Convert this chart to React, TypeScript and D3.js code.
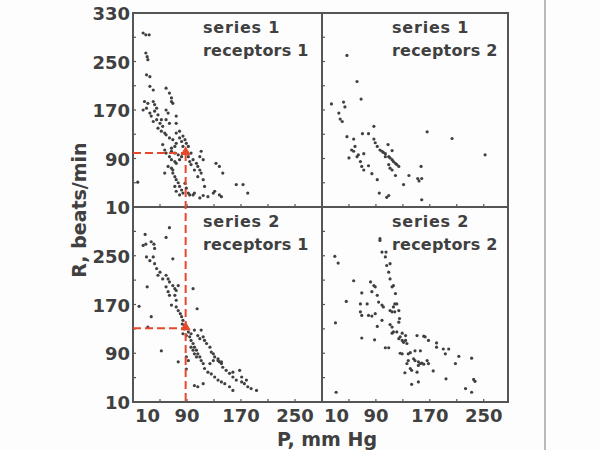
import React from 'react'
import * as d3 from 'd3'

// P (mm Hg), R (beats/min)
const s1r1: [number, number][] = [
  [25, 297], [29, 294], [34, 294], [29, 264], [31, 258], [32, 253], [30, 228], [35, 225],
  [35, 209], [40, 203], [59, 206], [64, 198], [67, 190], [67, 184], [69, 181],
  [27, 184], [32, 181], [30, 173], [25, 170], [40, 184], [42, 179], [45, 173], [42, 168], [47, 162],
  [35, 165], [37, 160], [40, 151], [45, 154], [50, 148], [54, 143], [47, 140], [52, 135], [57, 132],
  [59, 129], [64, 124], [69, 121], [74, 115], [72, 110], [67, 107],
  [74, 160], [74, 148], [79, 135], [84, 127], [87, 121], [89, 115], [92, 110], [96, 99], [99, 88],
  [104, 82], [106, 77], [109, 71], [111, 66], [114, 55], [116, 44], [62, 165], [59, 170],
  [54, 113], [57, 104], [59, 99], [64, 93], [67, 88], [72, 85], [74, 82], [79, 88], [82, 93],
  [84, 110], [87, 102], [92, 93], [94, 85], [96, 80], [101, 71], [106, 60],
  [69, 66], [72, 60], [74, 55], [77, 50], [79, 44], [82, 38], [84, 33], [72, 44], [74, 36], [79, 30],
  [87, 49], [89, 41], [92, 33], [94, 30], [99, 30], [101, 33], [109, 25], [114, 29], [121, 27],
  [129, 33], [138, 30], [67, 74], [69, 71], [62, 77], [57, 66], [111, 102], [114, 88], [109, 93],
  [133, 82], [138, 77], [143, 66], [163, 47], [173, 47], [180, 33], [131, 36], [141, 27],
  [67, 102], [72, 99], [77, 96], [59, 154], [64, 148], [52, 154], [79, 124], [82, 118], [74, 132],
  [17, 51],
]

const s1r2: [number, number][] = [
  [47, 260], [62, 217], [68, 188], [24, 180], [42, 183], [44, 175], [35, 165], [37, 155], [40, 151],
  [47, 126], [50, 91], [57, 122], [59, 110], [54, 104], [57, 102], [62, 93], [67, 85], [69, 77],
  [72, 71], [64, 96], [70, 131], [79, 131], [87, 143], [87, 122], [89, 116], [92, 110], [96, 104],
  [101, 100], [104, 98], [109, 93], [111, 91], [114, 88], [116, 85], [119, 82], [121, 80], [124, 77],
  [109, 80], [111, 74], [114, 71], [99, 102], [104, 93], [108, 113], [114, 103], [72, 98], [79, 78],
  [84, 65], [92, 55], [131, 47], [119, 62], [139, 62], [95, 33], [109, 29], [106, 26],
  [157, 77], [158, 57], [152, 57], [154, 53], [158, 22], [166, 134], [203, 123], [252, 96],
]

const s2r1: [number, number][] = [
  [28, 285], [25, 267], [29, 269], [37, 273], [41, 269], [42, 262], [30, 248], [35, 242], [40, 248],
  [42, 237], [64, 296], [59, 280], [69, 245], [45, 229], [47, 218], [50, 223], [54, 212], [59, 218],
  [62, 212], [64, 207], [59, 199], [62, 191], [64, 185], [31, 199], [69, 201], [72, 196], [74, 193],
  [77, 201], [72, 185], [74, 177], [67, 169], [74, 166], [77, 160], [19, 167], [37, 150], [32, 133],
  [52, 94], [80, 155], [82, 150], [84, 144], [83, 138], [86, 135], [86, 130], [99, 196], [105, 163],
  [84, 122], [89, 119], [94, 117], [96, 111], [99, 106], [101, 100], [104, 95], [106, 89], [109, 84],
  [111, 78], [114, 73], [92, 125], [96, 122], [101, 128], [106, 119], [109, 114], [111, 128],
  [114, 117], [116, 111], [119, 106], [124, 100], [126, 92], [129, 89], [131, 84], [136, 78],
  [138, 76], [141, 73], [143, 67], [148, 62], [153, 57], [158, 51], [163, 46], [171, 43], [175, 40],
  [180, 35], [185, 32], [193, 29], [96, 100], [99, 95], [101, 89], [104, 84], [116, 65], [121, 59],
  [126, 56], [131, 51], [136, 46], [141, 43], [146, 40], [153, 35], [158, 29], [89, 84], [92, 78],
  [77, 76], [89, 64], [101, 37], [106, 35], [114, 40], [124, 73], [129, 78], [136, 81], [141, 76],
  [158, 59], [168, 62], [171, 51], [178, 46],
]

const s2r2: [number, number][] = [
  [96, 278], [96, 275], [29, 249], [34, 238], [99, 256], [105, 256], [104, 248], [106, 234],
  [111, 237], [109, 223], [111, 212], [114, 199], [116, 201], [119, 188], [118, 171], [121, 171],
  [116, 166], [118, 158], [57, 209], [69, 189], [82, 207], [87, 201], [89, 199], [84, 191], [92, 185],
  [46, 175], [67, 171], [77, 171], [94, 174], [99, 169], [101, 166], [111, 160], [114, 158],
  [30, 140], [67, 158], [69, 152], [79, 152], [84, 151], [89, 155], [99, 144], [124, 160], [125, 147],
  [124, 141], [111, 137], [114, 133], [116, 125], [121, 125], [92, 134], [114, 123], [129, 123],
  [134, 119], [126, 117], [129, 111], [131, 108], [124, 114], [134, 111], [136, 106], [69, 115],
  [88, 112], [104, 99], [109, 99], [126, 90], [129, 89], [138, 89], [141, 91], [148, 94], [156, 94],
  [151, 119], [161, 118], [163, 117], [168, 111], [180, 107], [180, 100], [190, 97], [198, 97],
  [193, 89], [213, 85], [208, 73], [232, 82], [146, 81], [148, 78], [153, 76], [156, 73], [158, 74],
  [161, 72], [166, 78], [168, 73], [138, 78], [136, 73], [141, 65], [143, 62], [153, 70], [133, 58],
  [151, 59], [175, 61], [194, 48], [153, 43], [143, 39], [235, 47], [237, 44], [223, 32], [232, 26],
  [31, 26],
]

const panels = [
  { data: s1r1, title: ['series 1', 'receptors 1'], col: 0, row: 0 },
  { data: s1r2, title: ['series 1', 'receptors 2'], col: 1, row: 0 },
  { data: s2r1, title: ['series 2', 'receptors 1'], col: 0, row: 1 },
  { data: s2r2, title: ['series 2', 'receptors 2'], col: 1, row: 1 },
]

const rTicks = [330, 250, 170, 90, 10]
const pTicks = [10, 90, 170, 250]
const minorTicks = d3.range(10, 331, 40)

// red marker: P and R for top / bottom panel
const redP = 88
const redR = [99, 131]

const ink = '#404040'
const frame = '#555'
const red = '#e5492a'
const font = 'DejaVu Sans, sans-serif'

export default function App() {
  const xs = [
    d3.scaleLinear().domain([10, 290]).range([133, 322]),
    d3.scaleLinear().domain([10, 286]).range([322, 508]),
  ]
  const ys = [
    d3.scaleLinear().domain([10, 330]).range([207, 13]),
    d3.scaleLinear().domain([10, 330]).range([402, 207]),
  ]
  const tri = d3.symbol(d3.symbolTriangle, 45)()

  return (
    <svg width={600} height={450} style={{ position: 'absolute', left: 0, top: 0, background: '#fdfdfd' }}>
      <line x1={545} x2={545} y1={0} y2={450} stroke="#777" strokeWidth={1} />

      {panels.map((p, i) => {
        const x = xs[p.col]
        const y = ys[p.row]
        const [x0, x1] = x.range()
        const [y0, y1] = y.range()
        const xMax = x.domain()[1]
        return (
          <g key={i}>
            {minorTicks.map(t => (
              <g key={t}>
                <line x1={x0} x2={x0 + 3} y1={y(t)} y2={y(t)} stroke={frame} strokeWidth={1.2} />
                {t < xMax && (
                  <line x1={x(t)} x2={x(t)} y1={y0} y2={y0 - 3} stroke={frame} strokeWidth={1.2} />
                )}
              </g>
            ))}
            {p.data.map((d, j) => (
              <circle key={j} cx={x(d[0])} cy={y(d[1])} r={1.6} fill={ink} />
            ))}
            <rect x={x0} y={y1} width={x1 - x0} height={y0 - y1} fill="none" stroke={frame} strokeWidth={2} />
            <text x={x0 + 70} y={y1 + 20} fontFamily={font} fontSize={16} fontWeight="bold" fill={ink}
              letterSpacing={0.8}>
              {p.title[0]}
            </text>
            <text x={x0 + 70} y={y1 + 43} fontFamily={font} fontSize={16} fontWeight="bold" fill={ink}
              letterSpacing={0.2}>
              {p.title[1]}
            </text>
          </g>
        )
      })}

      {/* red guide lines */}
      <line x1={133} x2={xs[0](redP)} y1={ys[0](redR[0])} y2={ys[0](redR[0])}
        stroke={red} strokeWidth={2} strokeDasharray="8,4" />
      <line x1={133} x2={xs[0](redP)} y1={ys[1](redR[1])} y2={ys[1](redR[1])}
        stroke={red} strokeWidth={2} strokeDasharray="8,4" />
      <line x1={xs[0](redP)} x2={xs[0](redP)} y1={ys[0](redR[0])} y2={402}
        stroke={red} strokeWidth={2} strokeDasharray="8,4" />
      {redR.map((r, i) => (
        <path key={i} d={tri || ''} transform={`translate(${xs[0](redP)},${ys[i](r) - 1})`} fill={red} />
      ))}

      {/* y tick labels */}
      {ys.map((y, k) =>
        rTicks.filter(t => !(k === 1 && t === 330)).map(t => (
          <text key={k + '-' + t} x={130} y={y(t) + 7} textAnchor="end" fontFamily={font}
            fontSize={18} fontWeight="bold" fill={ink}>{t}</text>
        ))
      )}
      {/* x tick labels */}
      {xs.map((x, k) =>
        pTicks.map(t => (
          <text key={k + '-' + t} x={t === 10 ? x(t) + 2 : x(t)} y={422}
            textAnchor={t === 10 ? 'start' : 'middle'} fontFamily={font} fontSize={18}
            fontWeight="bold" fill={ink}>{t}</text>
        ))
      )}

      <text transform="translate(86,210) rotate(-90)" textAnchor="middle" fontFamily={font}
        fontSize={19} fontWeight="bold" fill={ink}>R, beats/min</text>
      <text x={327} y={446} textAnchor="middle" fontFamily={font} fontSize={19} fontWeight="bold"
        fill={ink}>P, mm Hg</text>
    </svg>
  )
}
